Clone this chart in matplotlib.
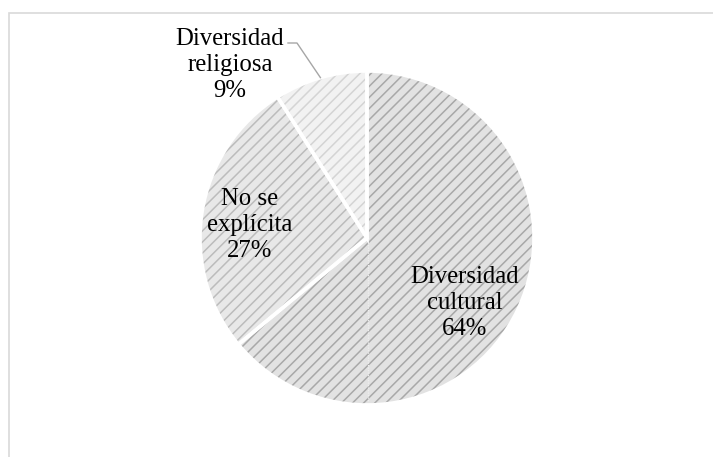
import matplotlib
matplotlib.use("Agg")
import matplotlib.pyplot as plt
from matplotlib.patches import Rectangle
import numpy as np

# Data
categories = ["Diversidad\ncultural", "No se\nexplícita", "Diversidad\nreligiosa"]
shares = [64, 27, 9]

# Styling
face_colors = ["#e2e2e2", "#e8e8e8", "#f2f2f2"]
hatch_colors = ["#a8a8a8", "#bcbcbc", "#d4d4d4"]

W, H = 713, 457
DPI = 100
plt.rcParams["hatch.linewidth"] = 1.1
plt.rcParams["font.family"] = ["Liberation Serif", "DejaVu Serif"]

fig = plt.figure(figsize=(W / DPI, H / DPI), dpi=DPI)
ax = fig.add_axes([0, 0, 1, 1])

center = (367, H - 238)
radius = 167

# Hatched wedges (hatch colour follows the edge colour)
wedges, _ = ax.pie(shares, startangle=90, counterclock=False,
                   center=center, radius=radius,
                   colors=face_colors,
                   wedgeprops=dict(linewidth=0, hatch="///"))
for w, hc in zip(wedges, hatch_colors):
    w.set_edgecolor(hc)
    w.set_linewidth(0)

# White separators between slices
sep, _ = ax.pie(shares, startangle=90, counterclock=False,
                center=center, radius=radius,
                colors=["none"] * len(shares),
                wedgeprops=dict(linewidth=2.6, edgecolor="white", fill=False))

ax.set_xlim(0, W)
ax.set_ylim(0, H)
ax.set_aspect("auto")
ax.axis("off")

# Faint dotted seam inside the largest slice
ax.plot([center[0] + 1, center[0] + 1], [center[1] - 4, center[1] - radius + 4],
        color="#eeeeee", lw=0.9, ls=(0, (1, 1)), zorder=3)

# Labels
label_pos = [(465, 303), (250, 225), (230, 65)]
for text, share, (lx, ly) in zip(categories, shares, label_pos):
    ax.text(lx, H - ly, f"{text}\n{share}%", ha="center", va="center",
            fontsize=17.8, color="black", linespacing=1.25, zorder=5)

# Leader line for the smallest slice
start = sum(shares[:2])
mid = (start + shares[2] / 2) / sum(shares)
ang = np.deg2rad(90 - 360 * mid)
ex, ey = center[0] + radius * np.cos(ang), center[1] + radius * np.sin(ang)
ax.plot([288, 297, ex], [H - 43, H - 43, ey], color="#a6a6a6", lw=1.0, zorder=4)

# Chart frame
fig.patches.append(Rectangle((9 / W, -0.1), 1.2, 1 - 13 / H + 0.1,
                             transform=fig.transFigure, fill=False,
                             edgecolor="#d9d9d9", linewidth=1.2))

fig.savefig("out.png", dpi=DPI)
